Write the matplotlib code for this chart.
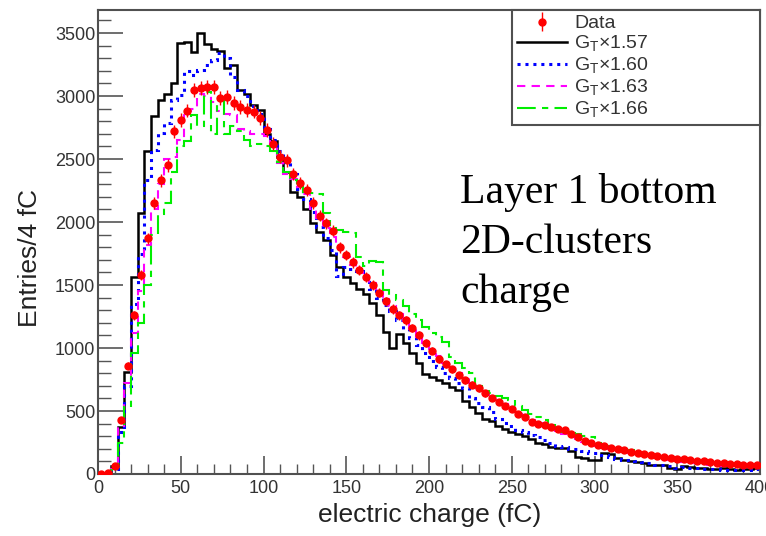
import numpy as np
import matplotlib.pyplot as plt
from matplotlib.ticker import MultipleLocator

plt.rcParams['font.family'] = ['Liberation Sans', 'DejaVu Sans']
plt.rcParams['mathtext.fontset'] = 'custom'
plt.rcParams['mathtext.rm'] = 'Liberation Sans'

# bin edges: 4 fC bins from 0 to 400 fC
edges = np.arange(0, 401, 4)
centers = edges[:-1] + 2

data = [0, 10, 60, 430, 860, 1260, 1580, 1870, 2150, 2330,
        2450, 2720, 2810, 2885, 3050, 3065, 3070, 3075, 2985, 2995,
        2945, 2915, 2890, 2877, 2825, 2730, 2620, 2520, 2490, 2380,
        2310, 2255, 2150, 2050, 1990, 1930, 1800, 1740, 1680, 1620,
        1560, 1500, 1440, 1370, 1310, 1260, 1220, 1160, 1100, 1040,
        980, 910, 870, 830, 785, 745, 710, 680, 640, 605,
        570, 540, 515, 480, 450, 415, 400, 385, 375, 360,
        350, 320, 290, 260, 245, 230, 220, 208, 198, 188,
        178, 170, 160, 152, 145, 138, 128, 122, 116, 111,
        106, 100, 95, 90, 86, 80, 78, 75, 73, 71]

g157 = [0, 0, 60, 375, 810, 1560, 2070, 2560, 2840, 2970,
        3020, 3100, 3420, 3430, 3350, 3500, 3410, 3370, 3360, 3220,
        3250, 3050, 3020, 2930, 2890, 2700, 2640, 2520, 2400, 2240,
        2200, 2100, 1990, 1920, 1860, 1740, 1640, 1560, 1520, 1470,
        1430, 1360, 1260, 1130, 1000, 1110, 1040, 960, 880, 790,
        770, 750, 720, 690, 670, 580, 530, 485, 440, 420,
        380, 360, 330, 320, 300, 275, 245, 235, 215, 205,
        205, 180, 135, 125, 112, 115, 165, 160, 125, 115,
        100, 95, 85, 75, 70, 70, 45, 40, 60, 55,
        50, 45, 42, 40, 48, 38, 35, 40, 42, 45]

g160 = [0, 0, 40, 330, 700, 1350, 1750, 2330, 2570, 2705,
        2785, 2970, 3010, 3200, 3170, 3210, 3250, 3290, 3340, 3300,
        3150, 3050, 3000, 2920, 2860, 2740, 2650, 2560, 2480, 2380,
        2260, 2180, 2080, 1960, 1870, 1780, 1570, 1640, 1630, 1610,
        1560, 1470, 1400, 1340, 1290, 1220, 1150, 1080, 1020, 960,
        900, 850, 800, 760, 725, 680, 600, 560, 530, 490,
        440, 405, 380, 350, 330, 310, 290, 270, 250, 225,
        215, 200, 195, 185, 170, 165, 150, 135, 120, 110,
        110, 100, 95, 85, 75, 70, 60, 50, 55, 48,
        45, 40, 42, 38, 35, 33, 35, 30, 32, 40]

g163 = [0, 0, 40, 380, 720, 1120, 1450, 1820, 2100, 2300,
        2500, 2520, 2650, 2880, 2900, 3020, 3000, 2950, 2880, 2860,
        2850, 2740, 2720, 2700, 2700, 2680, 2620, 2470, 2380, 2340,
        2280, 2220, 2100, 2030, 1950, 1880, 1790, 1720, 1660, 1600,
        1560, 1520, 1450, 1390, 1330, 1270, 1210, 1150, 1090, 1040,
        990, 940, 880, 840, 800, 760, 720, 685, 650, 620,
        585, 555, 520, 490, 460, 430, 405, 380, 355, 335,
        315, 295, 275, 255, 240, 225, 210, 195, 185, 175,
        165, 155, 145, 135, 125, 118, 110, 102, 96, 90,
        85, 80, 75, 70, 65, 62, 60, 57, 55, 55]

g166 = [0, 0, 30, 250, 530, 960, 1200, 1500, 1900, 2060,
        2150, 2400, 2600, 2640, 2850, 2760, 3030, 2700, 2960, 2700,
        2760, 2720, 2650, 2600, 2620, 2600, 2560, 2480, 2400, 2330,
        2280, 2240, 2230, 2220, 2070, 1950, 1940, 1920, 1910, 1720,
        1650, 1690, 1680, 1460, 1420, 1380, 1330, 1270, 1220, 1170,
        1120, 1090, 1050, 930, 880, 840, 800, 700, 660, 640,
        620, 600, 590, 540, 510, 480, 450, 430, 390, 360,
        330, 325, 315, 305, 295, 250, 220, 210, 205, 195,
        190, 170, 160, 150, 140, 135, 125, 115, 110, 105,
        100, 95, 90, 87, 85, 80, 75, 72, 70, 70]

labels = ["Data", r"G$_\mathrm{T}$×1.57", r"G$_\mathrm{T}$×1.60",
          r"G$_\mathrm{T}$×1.63", r"G$_\mathrm{T}$×1.66"]

W, H = 766, 536
fig = plt.figure(figsize=(W / 100, H / 100), dpi=100)
ax = fig.add_axes([98 / W, 62 / H, 662 / W, 464 / H])

h1 = ax.stairs(g157, edges, color="black", lw=1.8, zorder=2)
h2 = ax.stairs(g160, edges, color="#0000ff", lw=2.2, linestyle=(0, (1, 1.6)), zorder=2)
h3 = ax.stairs(g163, edges, color="#ff00ff", lw=1.5, linestyle=(0, (4, 3)), zorder=2)
h4 = ax.stairs(g166, edges, color="#00ee00", lw=1.5, linestyle=(0, (9, 3, 3, 3)), zorder=2)
hd = ax.errorbar(centers, data, yerr=np.sqrt(data), fmt="o", color="red", ms=5,
                 elinewidth=1, capsize=0, zorder=3)

ax.set_xlim(0, 400)
ax.set_ylim(0, 3683)
ax.set_xticks(np.arange(0, 401, 50))
ax.set_yticks(np.arange(0, 3501, 500))
ax.xaxis.set_minor_locator(MultipleLocator(10))
ax.yaxis.set_minor_locator(MultipleLocator(100))
ax.tick_params(which="both", direction="in", colors="#555555", labelcolor="#333333",
               labelsize=13, top=False, right=False)
ax.tick_params(axis="x", which="major", length=13, width=1.2, pad=4)
ax.tick_params(axis="x", which="minor", length=7, width=1)
ax.tick_params(axis="y", which="major", length=18, width=1.2, pad=2)
ax.tick_params(axis="y", which="minor", length=9, width=1)
for s in ax.spines.values():
    s.set_color("#505050")
    s.set_linewidth(1.5)

fig.text(430 / W, 1 - 515 / H, "electric charge (fC)", ha="center", va="center",
         fontsize=19, color="#222222")
fig.text(30 / W, 1 - 258 / H, "Entries/4 fC", ha="center", va="center",
         rotation=90, fontsize=19, color="#222222")

for txt, yb in [("Layer 1 bottom", 203), ("2D-clusters", 253), ("charge", 303)]:
    fig.text(460 / W, 1 - yb / H, txt, ha="left", va="baseline", fontsize=30,
             family="Liberation Serif", color="black")

leg = ax.legend([hd, h1, h2, h3, h4], labels, loc="upper left",
                bbox_to_anchor=(0.625, 0.0, 0.375, 1.0), mode="expand",
                fontsize=14, frameon=True, fancybox=False, borderaxespad=0,
                handlelength=2.6, handletextpad=0.35, labelspacing=0.08,
                borderpad=0.25, framealpha=1)
leg.get_frame().set_edgecolor("#505050")
leg.get_frame().set_linewidth(1.5)
for t in leg.get_texts():
    t.set_color("#333333")

fig.savefig("out.png", dpi=100)
